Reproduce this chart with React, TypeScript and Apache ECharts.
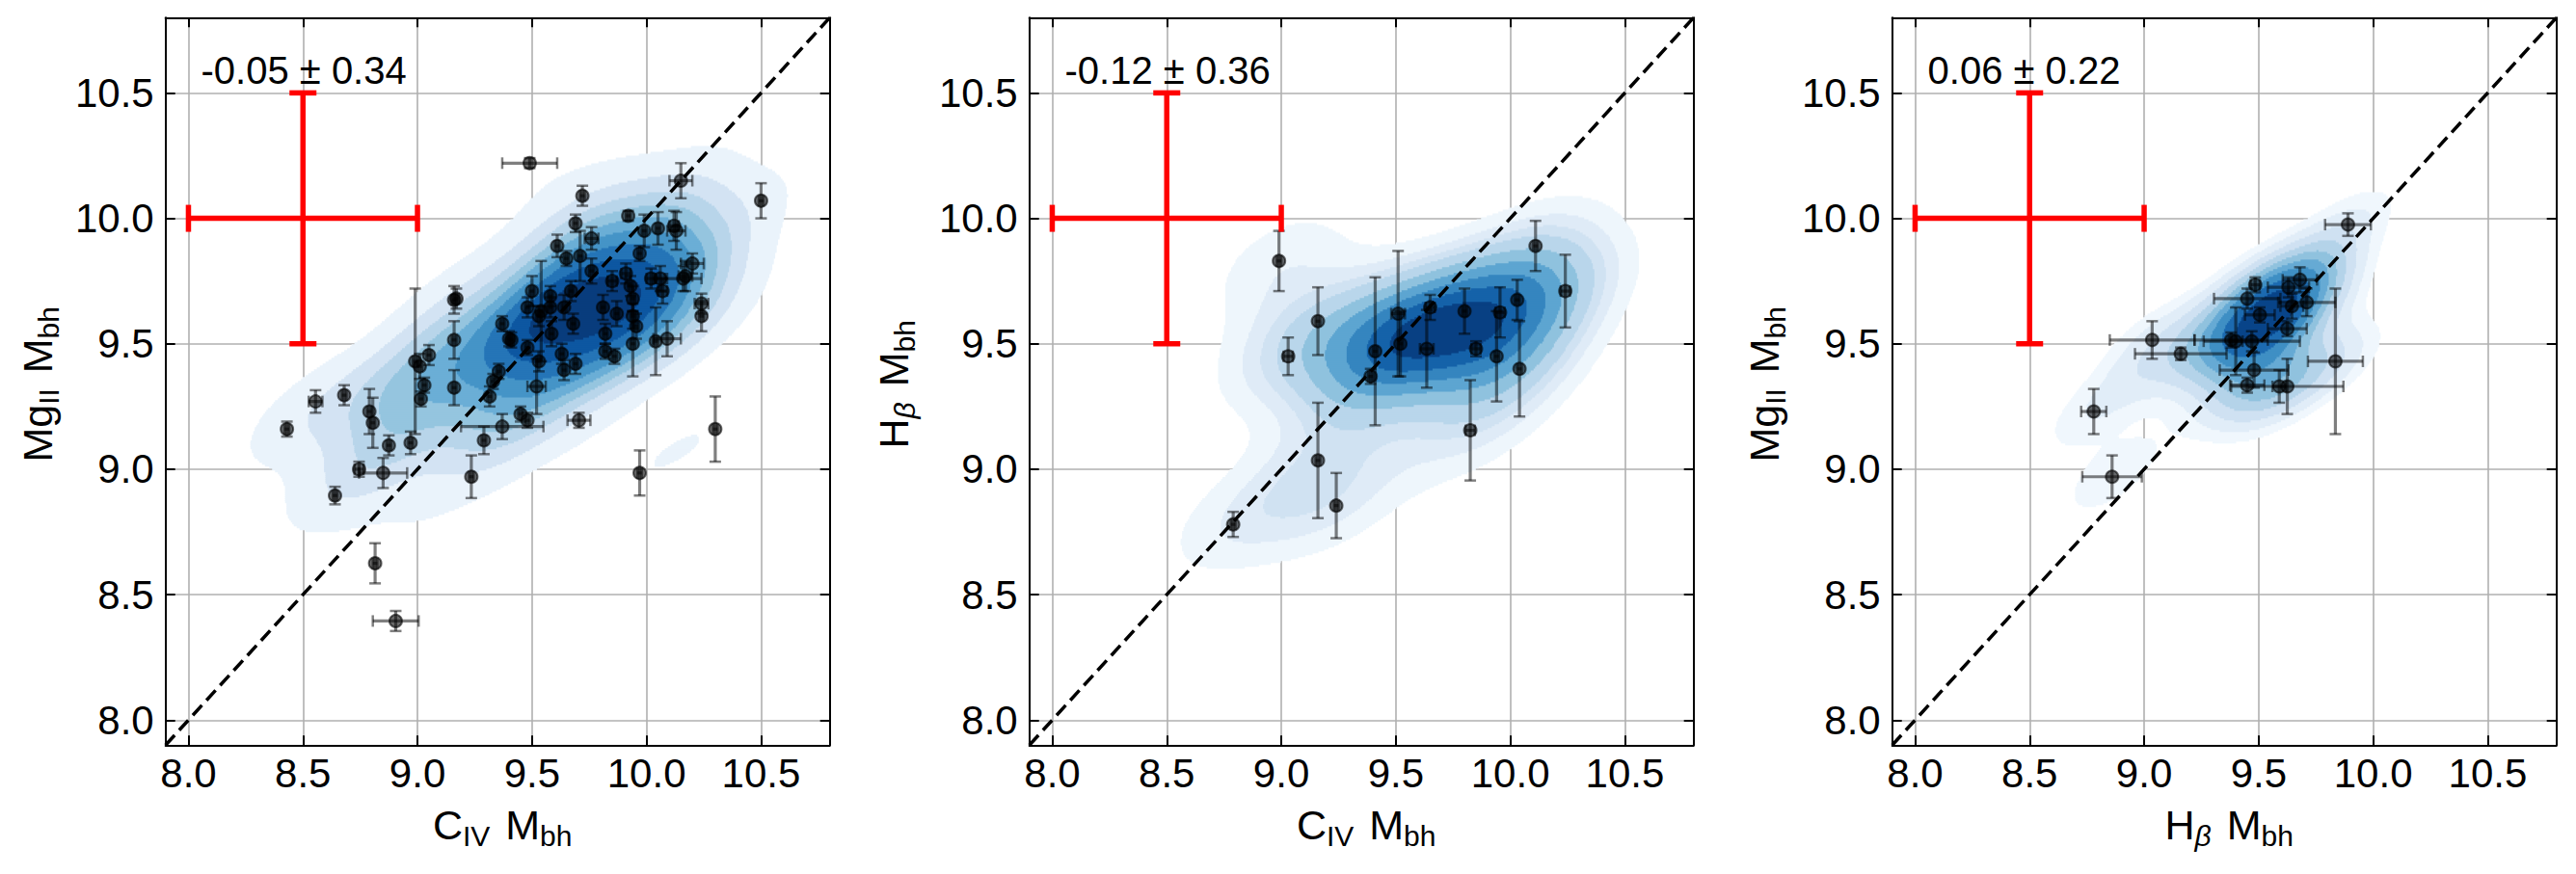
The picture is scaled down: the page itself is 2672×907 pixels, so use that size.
import React, { useEffect, useRef } from "react";
import * as echarts from "echarts";

const FONT = "'Liberation Sans', Arial, Helvetica, sans-serif";
const AXIS_MIN = 7.9;
const AXIS_MAX = 10.8;
const tickValues = [8.0, 8.5, 9.0, 9.5, 10.0, 10.5];
const tickLabels = ["8.0", "8.5", "9.0", "9.5", "10.0", "10.5"];

// Panel 1: C IV Mbh (x) vs Mg II Mbh (y)
const civMgX = [
  9.49, 10.15, 10.5, 9.72, 9.69, 9.92, 9.76, 9.99, 10.05, 10.12,
  10.13, 9.61, 9.65, 9.71, 9.97, 10.2, 10.17, 10.06, 10.02, 9.91,
  9.85, 9.76, 9.93, 9.94, 10.07, 10.24, 10.24, 10.16, 9.5, 9.54,
  9.58, 9.58, 9.48, 9.53, 9.67, 9.64, 9.68, 9.81, 9.87, 9.94,
  9.955, 9.82, 9.94, 10.04, 10.09, 9.585, 9.37, 9.4, 9.41, 9.48,
  9.53, 9.63, 9.69, 9.64, 9.82, 9.86, 9.52, 9.355, 9.33, 9.315,
  9.16, 9.17, 9.16, 9.16, 9.05, 8.99, 9.01, 9.03, 9.015, 8.97,
  8.875, 8.79, 8.805, 8.68, 8.555, 8.43, 8.745, 8.85, 8.64, 9.235,
  9.29, 9.37, 9.45, 9.48, 9.705, 9.97, 10.3, 8.815, 8.905,
];
const civMgY = [
  10.22, 10.15, 10.07, 10.09, 9.98, 10.01, 9.92, 9.95, 9.96, 9.97,
  9.95, 9.89, 9.84, 9.85, 9.86, 9.82, 9.77, 9.76, 9.76, 9.78,
  9.75, 9.79, 9.73, 9.68, 9.71, 9.66, 9.61, 9.76, 9.71, 9.63,
  9.69, 9.645, 9.645, 9.61, 9.71, 9.645, 9.58, 9.645, 9.62, 9.61,
  9.57, 9.54, 9.5, 9.51, 9.52, 9.54, 9.58, 9.52, 9.515, 9.485,
  9.43, 9.46, 9.42, 9.395, 9.47, 9.45, 9.33, 9.39, 9.35, 9.29,
  9.675, 9.68, 9.515, 9.325, 9.455, 9.43, 9.41, 9.335, 9.28, 9.105,
  9.095, 9.23, 9.185, 9.295, 9.27, 9.16, 9.0, 8.985, 8.895, 8.97,
  9.115, 9.17, 9.22, 9.195, 9.195, 8.985, 9.16, 8.625, 8.395,
];
const civMgXErr = [
  0.12, 0.05, 0.01, 0.01, 0.01, 0.01, 0.03, 0.01, 0.01, 0.02,
  0.04, 0.01, 0.01, 0.01, 0.01, 0.05, 0.03, 0.03, 0.02, 0.02,
  0.02, 0.01, 0.01, 0.01, 0.02, 0.03, 0.01, 0.08, 0.01, 0.01,
  0.01, 0.01, 0.01, 0.01, 0.01, 0.01, 0.01, 0.01, 0.01, 0.01,
  0.01, 0.01, 0.01, 0.01, 0.06, 0.01, 0.01, 0.01, 0.01, 0.01,
  0.01, 0.01, 0.01, 0.01, 0.01, 0.01, 0.04, 0.01, 0.01, 0.01,
  0.01, 0.01, 0.01, 0.01, 0.01, 0.01, 0.01, 0.01, 0.01, 0.01,
  0.01, 0.01, 0.01, 0.01, 0.03, 0.01, 0.02, 0.105, 0.01, 0.01,
  0.01, 0.18, 0.01, 0.01, 0.05, 0.01, 0.01, 0.01, 0.1,
];
const civMgYErr = [
  0.02, 0.07, 0.07, 0.04, 0.035, 0.02, 0.045, 0.065, 0.065, 0.06,
  0.075, 0.045, 0.03, 0.1, 0.03, 0.04, 0.06, 0.05, 0.04, 0.04,
  0.04, 0.05, 0.04, 0.05, 0.05, 0.04, 0.06, 0.05, 0.06, 0.2,
  0.04, 0.04, 0.04, 0.04, 0.04, 0.05, 0.04, 0.05, 0.05, 0.05,
  0.05, 0.04, 0.13, 0.135, 0.07, 0.05, 0.03, 0.03, 0.03, 0.03,
  0.04, 0.04, 0.04, 0.04, 0.03, 0.03, 0.11, 0.03, 0.03, 0.04,
  0.055, 0.04, 0.075, 0.07, 0.04, 0.29, 0.05, 0.03, 0.03, 0.045,
  0.04, 0.09, 0.1, 0.04, 0.045, 0.03, 0.03, 0.06, 0.035, 0.085,
  0.055, 0.05, 0.03, 0.03, 0.03, 0.09, 0.13, 0.08, 0.04,
];

// Panel 2: C IV Mbh (x) vs H beta Mbh (y)
const civHbX = [8.99, 9.16, 9.03, 9.41, 9.39, 9.51, 9.52, 9.65, 9.635, 9.8, 9.955, 10.03, 9.94, 9.85, 10.04, 10.11, 10.24, 9.825, 9.16, 9.24, 8.79];
const civHbY = [9.83, 9.59, 9.45, 9.47, 9.37, 9.62, 9.5, 9.645, 9.48, 9.63, 9.625, 9.675, 9.45, 9.48, 9.4, 9.89, 9.71, 9.155, 9.035, 8.855, 8.78];
const civHbXErr = [0.01, 0.01, 0.02, 0.01, 0.01, 0.03, 0.01, 0.02, 0.03, 0.01, 0.02, 0.01, 0.01, 0.02, 0.01, 0.01, 0.02, 0.02, 0.01, 0.01, 0.01];
const civHbYErr = [0.12, 0.135, 0.075, 0.295, 0.03, 0.25, 0.13, 0.05, 0.155, 0.09, 0.1, 0.08, 0.18, 0.03, 0.19, 0.1, 0.145, 0.2, 0.23, 0.13, 0.05];

// Panel 3: H beta Mbh (x) vs Mg II Mbh (y)
const hbMgX = [9.89, 9.485, 9.63, 9.68, 9.45, 9.71, 9.645, 9.505, 9.625, 9.035, 9.16, 9.38, 9.4, 9.47, 9.48, 9.45, 9.59, 9.625, 9.835, 8.78, 8.86];
const hbMgY = [9.975, 9.735, 9.725, 9.755, 9.68, 9.665, 9.65, 9.615, 9.56, 9.515, 9.46, 9.515, 9.51, 9.51, 9.395, 9.335, 9.33, 9.33, 9.43, 9.23, 8.97];
const hbMgXErr = [0.1, 0.02, 0.09, 0.075, 0.145, 0.125, 0.05, 0.065, 0.085, 0.185, 0.2, 0.16, 0.03, 0.21, 0.15, 0.075, 0.03, 0.245, 0.12, 0.055, 0.13];
const hbMgYErr = [0.045, 0.03, 0.04, 0.05, 0.04, 0.055, 0.05, 0.03, 0.03, 0.075, 0.025, 0.03, 0.135, 0.04, 0.07, 0.03, 0.065, 0.11, 0.29, 0.09, 0.085];

const offsetLabels = ["-0.05 ± 0.34", "-0.12 ± 0.36", "0.06 ± 0.22"];
const offsetLabelPos = [8.055, 10.59];
const typicalErrCenter = [8.5, 10.0];
const typicalErrSize = [0.5, 0.5];
const oneToOne = [7.9, 10.8];
const isoProps = [0.1, 0.2, 0.3, 0.4, 0.5, 0.6, 0.7, 0.8, 0.9, 1.0];
const BLUES = ["#f7fbff", "#deebf7", "#c6dbef", "#9ecae1", "#6baed6", "#4292c6", "#2171b5", "#08519c", "#08306b"];

// axis titles: [text, isSubscript, isItalic]
const NAME_CIV: [string, boolean, boolean][] = [["C", false, false], ["IV", true, false], [" M", false, false], ["bh", true, false]];
const NAME_MGII: [string, boolean, boolean][] = [["Mg", false, false], ["II", true, false], [" M", false, false], ["bh", true, false]];
const NAME_HB: [string, boolean, boolean][] = [["H", false, false], ["β", true, true], [" M", false, false], ["bh", true, false]];

const GRID_LEFT = [171.7, 1067.7, 1962.7];
const GRID_TOP = 18.3;
const GRID_W = 689;
const GRID_H = 755;
const MAIN_FS = 43;
const SUB_FS = 30;
const SUB_DROP = 7;
const CENTRAL = 0.3465;

function hexToRgb(h: string) {
  return [parseInt(h.slice(1, 3), 16), parseInt(h.slice(3, 5), 16), parseInt(h.slice(5, 7), 16)];
}
function blues(t: number) {
  const tt = Math.max(0, Math.min(1, t)) * (BLUES.length - 1);
  const i = Math.min(Math.floor(tt), BLUES.length - 2);
  const f = tt - i;
  const a = hexToRgb(BLUES[i]);
  const b = hexToRgb(BLUES[i + 1]);
  const c = a.map((v, k) => Math.round(v + (b[k] - v) * f));
  return `rgb(${c[0]},${c[1]},${c[2]})`;
}

function computeKde(xs: number[], ys: number[]) {
  const n = xs.length;
  let mx = 0, my = 0;
  for (let i = 0; i < n; i++) { mx += xs[i]; my += ys[i]; }
  mx /= n; my /= n;
  let sxx = 0, syy = 0, sxy = 0;
  for (let i = 0; i < n; i++) {
    const dx = xs[i] - mx, dy = ys[i] - my;
    sxx += dx * dx; syy += dy * dy; sxy += dx * dy;
  }
  sxx /= n - 1; syy /= n - 1; sxy /= n - 1;
  const f2 = Math.pow(n, -1 / 3);
  const cxx = sxx * f2, cyy = syy * f2, cxy = sxy * f2;
  const det = cxx * cyy - cxy * cxy;
  const ia = cyy / det, ib = -cxy / det, ic = cxx / det;
  const dens = (px: number, py: number) => {
    let s = 0;
    for (let i = 0; i < n; i++) {
      const dx = px - xs[i], dy = py - ys[i];
      s += Math.exp(-0.5 * (ia * dx * dx + 2 * ib * dx * dy + ic * dy * dy));
    }
    return s;
  };
  const bx = Math.sqrt(cxx), by = Math.sqrt(cyy);
  const gx0 = Math.min(...xs) - 3 * bx, gx1 = Math.max(...xs) + 3 * bx;
  const gy0 = Math.min(...ys) - 3 * by, gy1 = Math.max(...ys) + 3 * by;
  const G = 200;
  const vals: number[] = [];
  let total = 0;
  for (let i = 0; i < G; i++) {
    const px = gx0 + ((gx1 - gx0) * i) / (G - 1);
    for (let j = 0; j < G; j++) {
      const py = gy0 + ((gy1 - gy0) * j) / (G - 1);
      const v = dens(px, py);
      vals.push(v);
      total += v;
    }
  }
  const sorted = vals.sort((a, b) => b - a);
  const cum = new Float64Array(sorted.length);
  let acc = 0;
  for (let i = 0; i < sorted.length; i++) { acc += sorted[i]; cum[i] = acc / total; }
  const levels = isoProps.map((q) => {
    const target = 1 - q;
    let lo = 0, hi = cum.length;
    while (lo < hi) {
      const mid = (lo + hi) >> 1;
      if (cum[mid] < target) lo = mid + 1; else hi = mid;
    }
    return sorted[Math.min(lo, cum.length - 1)];
  });
  const l0 = levels[0], lN = levels[levels.length - 1];
  const colors = levels.slice(0, -1).map((l, k) => blues(((l + levels[k + 1]) / 2 - l0) / (lN - l0)));

  const NX = 460, NY = 378;
  const dx = (AXIS_MAX - AXIS_MIN) / NX, dy = (AXIS_MAX - AXIS_MIN) / NY;
  const field = new Float64Array(NX * NY);
  for (let r = 0; r < NY; r++) {
    const py = AXIS_MIN + (r + 0.5) * dy;
    for (let c = 0; c < NX; c++) {
      const px = AXIS_MIN + (c + 0.5) * dx;
      field[r * NX + c] = px >= gx0 && px <= gx1 && py >= gy0 && py <= gy1 ? dens(px, py) : 0;
    }
  }
  const runs: number[][] = [];
  for (let k = 0; k < levels.length - 1; k++) {
    const thr = levels[k];
    for (let r = 0; r < NY; r++) {
      let c = 0;
      while (c < NX) {
        if (field[r * NX + c] >= thr) {
          let e = c;
          while (e + 1 < NX && field[r * NX + e + 1] >= thr) e++;
          runs.push([AXIS_MIN + c * dx, AXIS_MIN + r * dy, AXIS_MIN + (e + 1) * dx, AXIS_MIN + (r + 1) * dy, k]);
          c = e + 1;
        } else c++;
      }
    }
  }
  return { runs, colors };
}

const panels = [
  { x: civMgX, y: civMgY, xe: civMgXErr, ye: civMgYErr, xName: NAME_CIV, yName: NAME_MGII, yBase: 118 },
  { x: civHbX, y: civHbY, xe: civHbXErr, ye: civHbYErr, xName: NAME_CIV, yName: NAME_HB, yBase: 125.8 },
  { x: hbMgX, y: hbMgY, xe: hbMgXErr, ye: hbMgYErr, xName: NAME_HB, yName: NAME_MGII, yBase: 117.5 },
];

const fmt = (v: number) => {
  const i = tickValues.findIndex((t) => Math.abs(t - v) < 1e-6);
  return i >= 0 ? tickLabels[i] : v.toFixed(1);
};

const lineStyleAxis = { color: "#000", width: 2 };

function mainAxis(i: number, pos: string, isY: boolean) {
  return {
    type: "value",
    gridIndex: i,
    position: pos,
    min: AXIS_MIN,
    max: AXIS_MAX,
    axisLine: { show: true, onZero: false, lineStyle: lineStyleAxis },
    axisTick: { show: true, inside: true, length: 10, lineStyle: lineStyleAxis, customValues: tickValues },
    axisLabel: {
      show: true,
      customValues: tickValues,
      formatter: fmt,
      margin: isY ? 12 : 8,
      fontSize: 42,
      fontFamily: FONT,
      color: "#000",
    },
    splitLine: { show: true, lineStyle: { color: "#b0b0b0", width: 1.6 } },
  };
}
function mirrorAxis(i: number, pos: string) {
  return {
    type: "value",
    gridIndex: i,
    position: pos,
    min: AXIS_MIN,
    max: AXIS_MAX,
    axisLine: { show: true, onZero: false, lineStyle: lineStyleAxis },
    axisTick: { show: true, inside: true, length: 10, lineStyle: lineStyleAxis, customValues: tickValues },
    axisLabel: { show: false },
    splitLine: { show: false },
  };
}

function makeTitle(tokens: [string, boolean, boolean][], x: number, y: number, rotation: number, measure: (t: string, fs: number, it: boolean) => number) {
  const gapBefore = (k: number) => (k > 0 && !tokens[k][1] ? 4 : 0);
  const widths = tokens.map(([t, sub, it]) => measure(t, sub ? SUB_FS : MAIN_FS, it));
  const total = widths.reduce((a, b) => a + b, 0) + tokens.reduce((a, _t, k) => a + gapBefore(k), 0);
  let cur = -total / 2;
  const children = tokens.map(([t, sub, it], k) => {
    cur += gapBefore(k);
    const fs = sub ? SUB_FS : MAIN_FS;
    const el = {
      type: "text",
      x: cur,
      y: -CENTRAL * fs + (sub ? SUB_DROP : 0),
      style: {
        text: t,
        fontSize: fs,
        fontFamily: FONT,
        fontStyle: it ? "italic" : "normal",
        fill: "#000",
        align: "left",
        verticalAlign: "middle",
      },
    };
    cur += widths[k];
    return el;
  });
  return { type: "group", x, y, rotation, silent: true, children };
}

function buildOption() {
  const canvas = document.createElement("canvas");
  const ctx = canvas.getContext("2d") as CanvasRenderingContext2D;
  const measure = (t: string, fs: number, it: boolean) => {
    ctx.font = `${it ? "italic " : ""}${fs}px ${FONT}`;
    return ctx.measureText(t).width;
  };

  const series: any[] = [];
  const graphics: any[] = [];
  panels.forEach((p, i) => {
    const kde = computeKde(p.x, p.y);
    const axisRef = { xAxisIndex: 2 * i, yAxisIndex: 2 * i };
    series.push({
      type: "custom",
      ...axisRef,
      silent: true,
      clip: true,
      progressive: 0,
      z: 1,
      data: kde.runs,
      renderItem: (_params: any, api: any) => {
        const k = api.value(4);
        const p0 = api.coord([api.value(0), api.value(3)]);
        const p1 = api.coord([api.value(2), api.value(1)]);
        return {
          type: "rect",
          z2: k,
          shape: { x: p0[0] - 0.3, y: p0[1] - 0.6, width: p1[0] - p0[0] + 0.6, height: p1[1] - p0[1] + 1.2 },
          style: { fill: kde.colors[k] },
        };
      },
    });
    series.push({
      type: "custom",
      ...axisRef,
      silent: true,
      z: 2,
      data: [[oneToOne[0], oneToOne[0], oneToOne[1], oneToOne[1]]],
      renderItem: (_params: any, api: any) => {
        const a = api.coord([api.value(0), api.value(1)]);
        const b = api.coord([api.value(2), api.value(3)]);
        return {
          type: "line",
          shape: { x1: a[0], y1: a[1], x2: b[0], y2: b[1] },
          style: { stroke: "#000", lineWidth: 3.5, lineDash: [14, 7] },
        };
      },
    });
    series.push({
      type: "custom",
      ...axisRef,
      silent: true,
      progressive: 0,
      z: 3,
      data: p.x.map((xv, j) => [xv, p.y[j], p.xe[j], p.ye[j]]),
      renderItem: (_params: any, api: any) => {
        const x = api.value(0), y = api.value(1), xe = api.value(2), ye = api.value(3);
        const c = api.coord([x, y]);
        const l = api.coord([x - xe, y]);
        const r = api.coord([x + xe, y]);
        const t = api.coord([x, y + ye]);
        const b = api.coord([x, y - ye]);
        const eb = { stroke: "rgba(0,0,0,0.5)", lineWidth: 3.2 };
        const cap = { stroke: "rgba(0,0,0,0.5)", lineWidth: 2.5 };
        const C = 6;
        return {
          type: "group",
          children: [
            { type: "line", shape: { x1: l[0], y1: l[1], x2: r[0], y2: r[1] }, style: eb },
            { type: "line", shape: { x1: t[0], y1: t[1], x2: b[0], y2: b[1] }, style: eb },
            { type: "line", shape: { x1: l[0], y1: l[1] - C, x2: l[0], y2: l[1] + C }, style: cap },
            { type: "line", shape: { x1: r[0], y1: r[1] - C, x2: r[0], y2: r[1] + C }, style: cap },
            { type: "line", shape: { x1: t[0] - C, y1: t[1], x2: t[0] + C, y2: t[1] }, style: cap },
            { type: "line", shape: { x1: b[0] - C, y1: b[1], x2: b[0] + C, y2: b[1] }, style: cap },
            { type: "circle", shape: { cx: c[0], cy: c[1], r: 6.5 }, style: { fill: "rgba(0,0,0,0.58)", stroke: "rgba(0,0,0,0.58)", lineWidth: 2 } },
          ],
        };
      },
    });
    series.push({
      type: "custom",
      ...axisRef,
      silent: true,
      z: 4,
      data: [[typicalErrCenter[0], typicalErrCenter[1], typicalErrSize[0], typicalErrSize[1]]],
      renderItem: (_params: any, api: any) => {
        const x = api.value(0), y = api.value(1), xe = api.value(2), ye = api.value(3);
        const l = api.coord([x - xe, y]);
        const r = api.coord([x + xe, y]);
        const t = api.coord([x, y + ye]);
        const b = api.coord([x, y - ye]);
        const st = { stroke: "#ff0000", lineWidth: 5.5 };
        const C = 14;
        return {
          type: "group",
          children: [
            { type: "line", shape: { x1: l[0], y1: l[1], x2: r[0], y2: r[1] }, style: st },
            { type: "line", shape: { x1: t[0], y1: t[1], x2: b[0], y2: b[1] }, style: st },
            { type: "line", shape: { x1: l[0], y1: l[1] - C, x2: l[0], y2: l[1] + C }, style: st },
            { type: "line", shape: { x1: r[0], y1: r[1] - C, x2: r[0], y2: r[1] + C }, style: st },
            { type: "line", shape: { x1: t[0] - C, y1: t[1], x2: t[0] + C, y2: t[1] }, style: st },
            { type: "line", shape: { x1: b[0] - C, y1: b[1], x2: b[0] + C, y2: b[1] }, style: st },
          ],
        };
      },
    });
    series.push({
      type: "custom",
      ...axisRef,
      silent: true,
      z: 5,
      data: [[offsetLabelPos[0], offsetLabelPos[1]]],
      renderItem: (_params: any, api: any) => {
        const c = api.coord([api.value(0), api.value(1)]);
        return {
          type: "text",
          x: c[0],
          y: c[1],
          style: { text: offsetLabels[i], fontSize: 40, fontFamily: FONT, fill: "#000", align: "left", verticalAlign: "middle" },
        };
      },
    });

    // axis titles
    graphics.push(makeTitle(p.xName, GRID_LEFT[i] + GRID_W / 2 + 5, 871, 0, measure));
    graphics.push(makeTitle(p.yName, GRID_LEFT[i] - p.yBase, GRID_TOP + GRID_H / 2 + 3, Math.PI / 2, measure));
  });

  return {
    animation: false,
    backgroundColor: "#ffffff",
    grid: panels.map((_p, i) => ({
      left: GRID_LEFT[i],
      top: GRID_TOP,
      width: GRID_W,
      height: GRID_H,
      containLabel: false,
      outerBoundsMode: "none",
    })),
    xAxis: panels.flatMap((_p, i) => [mainAxis(i, "bottom", false), mirrorAxis(i, "top")]),
    yAxis: panels.flatMap((_p, i) => [mainAxis(i, "left", true), mirrorAxis(i, "right")]),
    graphic: graphics,
    series,
  };
}

export default function App() {
  const ref = useRef<HTMLDivElement>(null);
  useEffect(() => {
    if (!ref.current) return;
    const chart = echarts.init(ref.current, null, { renderer: "svg" });
    chart.setOption(buildOption() as any);
    return () => chart.dispose();
  }, []);
  return (
    <div
      ref={ref}
      style={{ position: "absolute", left: 0, top: 0, width: 2672, height: 907, background: "#fff" }}
    />
  );
}
